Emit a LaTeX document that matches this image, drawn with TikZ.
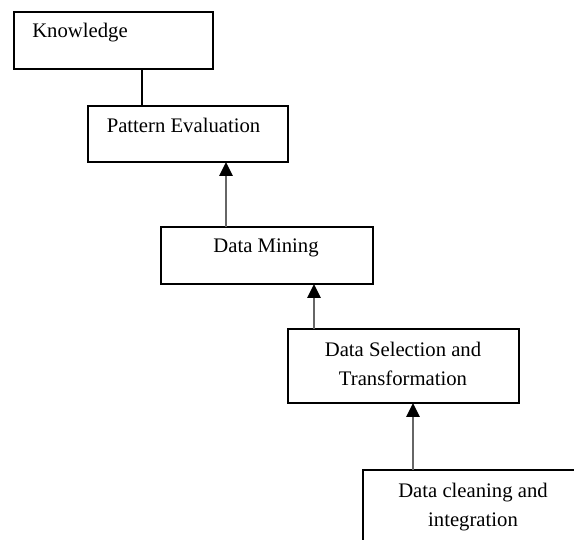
\documentclass[tikz,border=0pt]{standalone}
\usepackage{fontspec}
\setmainfont{Liberation Serif}
\usetikzlibrary{arrows.meta}

\tikzset{
  stage/.style={draw, line width=1.8pt, anchor=north west, inner sep=0pt, outer sep=0pt},
  stagetext/.style={font=\fontsize{20.7}{29}\selectfont, align=center, inner sep=0pt},
  flow/.style={line width=2.6pt, draw=black!60, -{Triangle[width=13pt,length=14pt,color=black]}}
}

\begin{document}
\begin{tikzpicture}[x=1pt,y=-1pt]
\useasboundingbox (0,0) rectangle (574,540);
\clip (0,0) rectangle (574,540);
% boxes
\node [stage, minimum width=199pt, minimum height=57pt] (know) at (14,12) {};
\node [stage, minimum width=200pt, minimum height=56pt] (pattern) at (88,106) {};
\node [stage, minimum width=212pt, minimum height=57pt] (mining) at (161,227) {};
\node [stage, minimum width=231pt, minimum height=74pt] (select) at (288,329) {};
\node [stage, minimum width=260pt, minimum height=100pt] (clean) at (363,470) {};
% texts
\node [stagetext] (knowtxt) at (80,33) {Knowledge};
\node [stagetext] (patterntxt) at (183.5,125) {Pattern Evaluation};
\node [stagetext] (miningtxt) at (266,248) {Data Mining};
\node [stagetext] (selecttxt) at (403,364) {Data Selection and\\Transformation};
\node [stagetext] (cleantxt) at (473,507.5) {Data cleaning and\\integration};
% links
\draw [line width=2pt] ([xshift=54pt]pattern.north west) -- ([xshift=54pt]pattern.north west |- know.south);
\draw [flow] ([xshift=65pt]mining.north west) -- ([xshift=65pt]mining.north west |- pattern.south);
\draw [flow] ([xshift=26pt]select.north west) -- ([xshift=26pt]select.north west |- mining.south);
\draw [flow] ([xshift=50pt]clean.north west) -- ([xshift=50pt]clean.north west |- select.south);
\end{tikzpicture}
\end{document}
